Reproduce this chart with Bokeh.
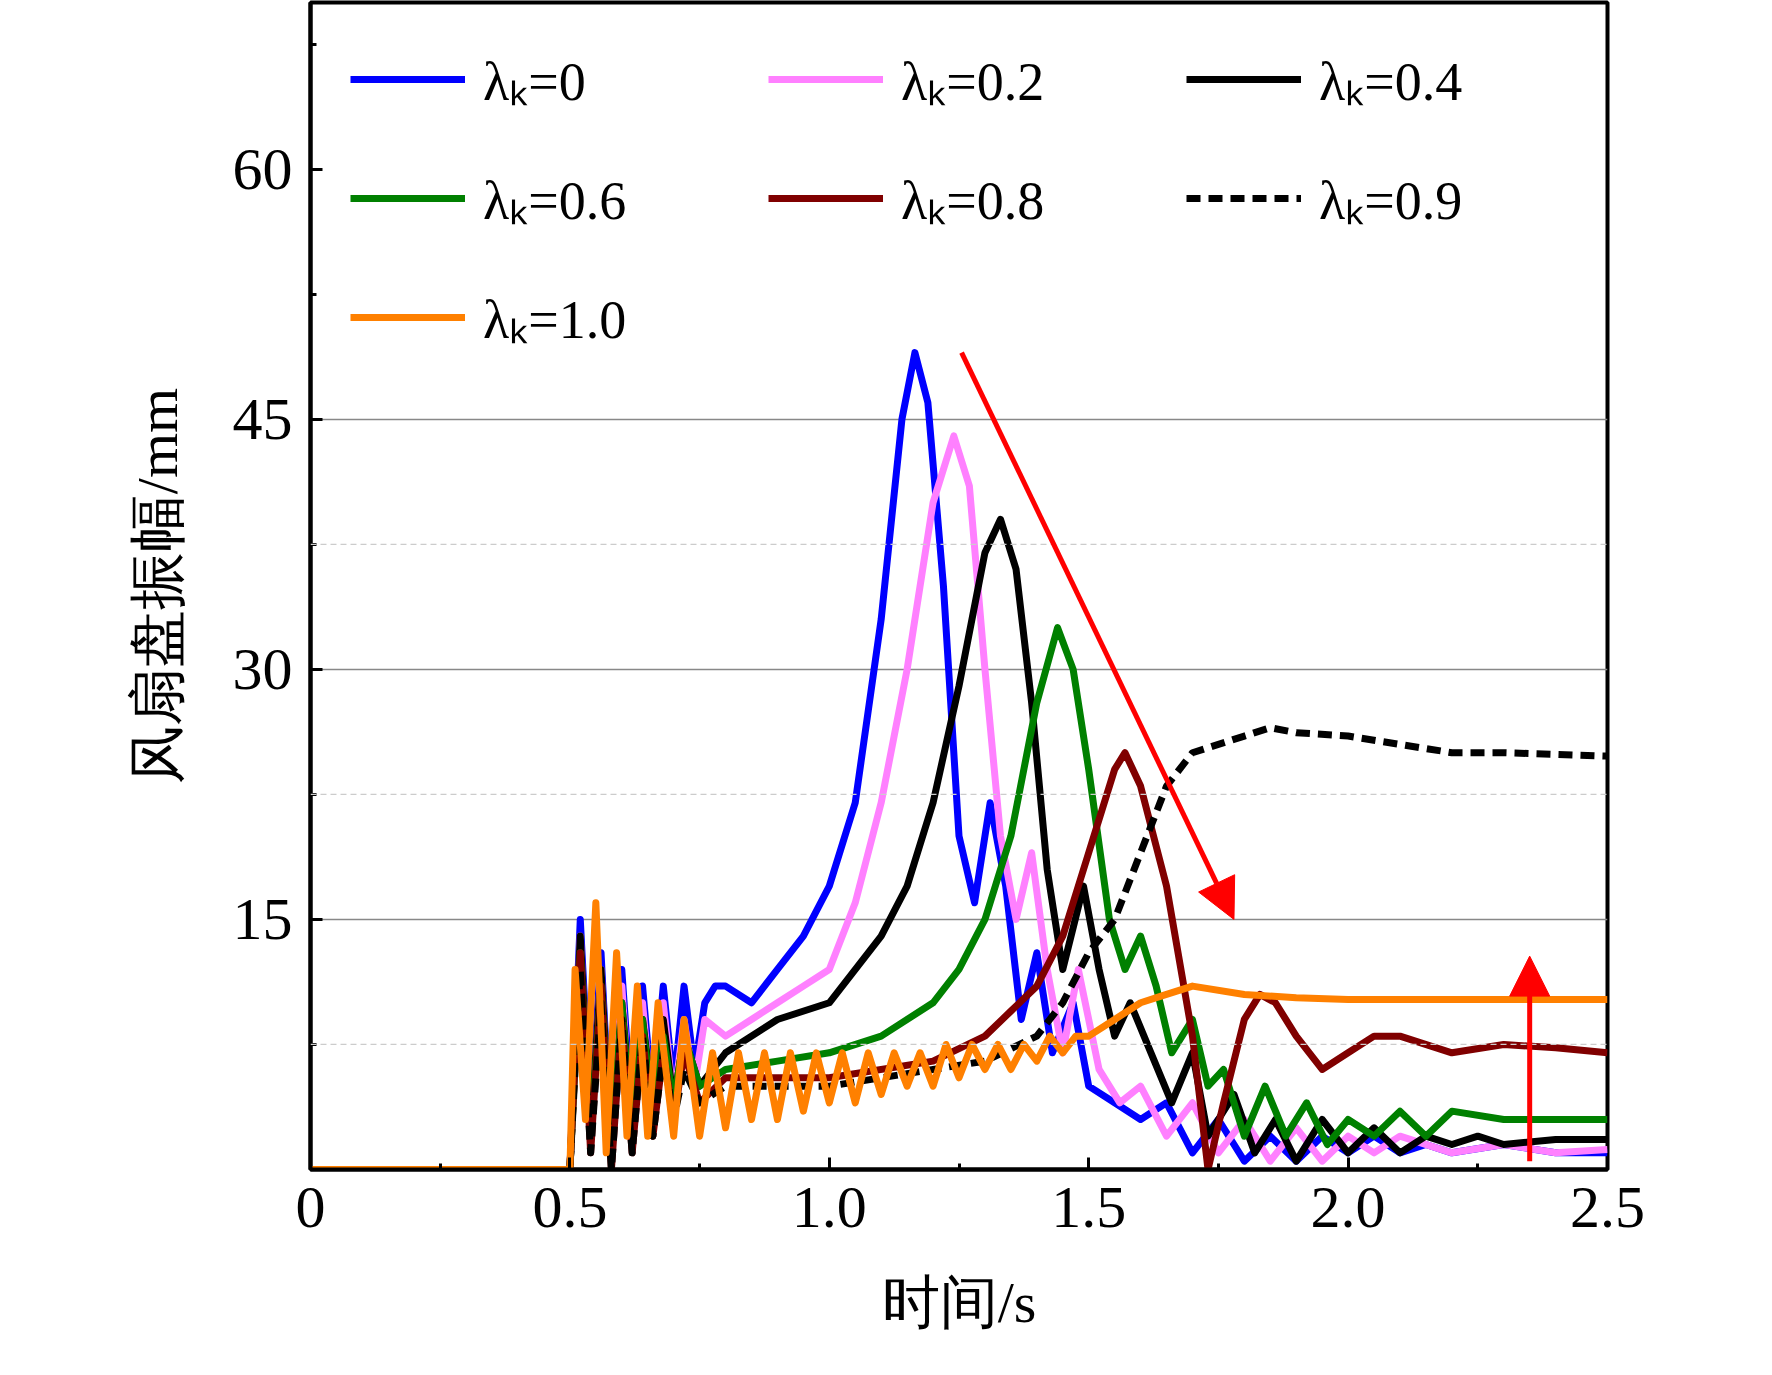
from bokeh.plotting import figure
from bokeh.models import (Legend, LegendItem, FixedTicker, Arrow, NormalHead, Span)
from bokeh.embed import file_html
from bokeh.resources import INLINE

# ---- data ----
t_l0 = [0, 0.5, 0.52, 0.54, 0.56, 0.58, 0.60, 0.62, 0.64, 0.66, 0.68, 0.70, 0.72, 0.74, 0.76, 0.78, 0.80, 0.85, 0.90, 0.95, 1.00, 1.05, 1.10, 1.14, 1.165, 1.19, 1.22, 1.25, 1.28, 1.31, 1.34, 1.37, 1.40, 1.43, 1.47, 1.50, 1.55, 1.60, 1.65, 1.70, 1.75, 1.80, 1.85, 1.90, 1.95, 2.00, 2.05, 2.10, 2.15, 2.20, 2.30, 2.40, 2.50]
y_l0 = [0, 0, 15, 3, 13, 1, 12, 3, 11, 4, 11, 5, 11, 6, 10, 11, 11, 10, 12, 14, 17, 22, 33, 45, 49, 46, 35, 20, 16, 22, 17, 9, 13, 7, 10, 5, 4, 3, 4, 1, 3, 0.5, 2, 0.5, 2, 1, 2, 1, 1.5, 1, 1.5, 1, 1]

t_l2 = [0, 0.5, 0.52, 0.54, 0.56, 0.58, 0.60, 0.62, 0.64, 0.66, 0.68, 0.70, 0.72, 0.74, 0.76, 0.80, 0.85, 0.90, 0.95, 1.00, 1.05, 1.10, 1.15, 1.20, 1.24, 1.27, 1.30, 1.33, 1.36, 1.39, 1.42, 1.45, 1.48, 1.52, 1.56, 1.60, 1.65, 1.70, 1.75, 1.80, 1.85, 1.90, 1.95, 2.00, 2.05, 2.10, 2.20, 2.30, 2.40, 2.50]
y_l2 = [0, 0, 14, 2, 12, 1, 11, 2, 10, 3, 10, 4, 9, 5, 9, 8, 9, 10, 11, 12, 16, 22, 30, 40, 44, 41, 30, 20, 15, 19, 12, 7, 12, 6, 4, 5, 2, 4, 1, 3, 0.5, 2.5, 0.5, 2, 1, 2, 1, 1.5, 1, 1.2]

t_l4 = [0, 0.5, 0.52, 0.54, 0.56, 0.58, 0.60, 0.62, 0.64, 0.66, 0.68, 0.70, 0.72, 0.75, 0.80, 0.90, 1.00, 1.10, 1.15, 1.20, 1.25, 1.30, 1.33, 1.36, 1.39, 1.42, 1.45, 1.49, 1.52, 1.55, 1.58, 1.62, 1.66, 1.70, 1.73, 1.78, 1.82, 1.86, 1.90, 1.95, 2.00, 2.05, 2.10, 2.15, 2.20, 2.25, 2.30, 2.40, 2.50]
y_l4 = [0, 0, 14, 2, 12, 1, 10, 3, 9, 4, 9, 4, 8, 5, 7, 9, 10, 14, 17, 22, 29, 37, 39, 36, 28, 18, 12, 17, 12, 8, 10, 7, 4, 7, 2, 4.5, 1, 3, 0.5, 3, 1, 2.5, 1, 2, 1.5, 2, 1.5, 1.8, 1.8]

t_l6 = [0, 0.5, 0.52, 0.54, 0.56, 0.58, 0.60, 0.62, 0.64, 0.66, 0.68, 0.70, 0.72, 0.75, 0.80, 0.90, 1.00, 1.10, 1.20, 1.25, 1.30, 1.35, 1.40, 1.44, 1.47, 1.50, 1.54, 1.57, 1.60, 1.63, 1.66, 1.70, 1.73, 1.76, 1.80, 1.84, 1.88, 1.92, 1.96, 2.00, 2.05, 2.10, 2.15, 2.20, 2.30, 2.40, 2.50]
y_l6 = [0, 0, 13, 2, 11, 1, 10, 2, 9, 3, 8, 4, 8, 5, 6, 6.5, 7, 8, 10, 12, 15, 20, 28, 32.5, 30, 24, 15, 12, 14, 11, 7, 9, 5, 6, 2, 5, 2, 4, 1.5, 3, 2, 3.5, 2, 3.5, 3, 3, 3]

t_l8 = [0, 0.5, 0.52, 0.54, 0.56, 0.58, 0.60, 0.62, 0.64, 0.66, 0.68, 0.70, 0.72, 0.75, 0.80, 1.00, 1.20, 1.30, 1.35, 1.40, 1.45, 1.50, 1.55, 1.57, 1.60, 1.65, 1.70, 1.73, 1.76, 1.80, 1.83, 1.86, 1.90, 1.95, 2.00, 2.05, 2.10, 2.20, 2.30, 2.40, 2.50]
y_l8 = [0, 0, 13, 1, 11, 0, 9, 1, 8, 2, 7, 3, 7, 4, 5.5, 5.5, 6.5, 8, 9.5, 11, 14, 19, 24, 25, 23, 17, 8, 0, 4, 9, 10.5, 10, 8, 6, 7, 8, 8, 7, 7.5, 7.3, 7]

t_l9 = [0, 0.5, 0.52, 0.54, 0.56, 0.58, 0.60, 0.62, 0.64, 0.66, 0.68, 0.70, 0.72, 0.75, 0.80, 1.00, 1.20, 1.30, 1.40, 1.45, 1.50, 1.55, 1.60, 1.65, 1.70, 1.75, 1.80, 1.85, 1.90, 2.00, 2.10, 2.20, 2.30, 2.50]
y_l9 = [0, 0, 12, 1, 10, 0, 9, 1, 8, 2, 7, 3, 6, 4, 5, 5, 6, 6.5, 8, 10, 13, 15, 19, 23, 25, 25.5, 26, 26.5, 26.2, 26, 25.5, 25, 25, 24.8]

t_l10 = [0, 0.5, 0.51, 0.53, 0.55, 0.57, 0.59, 0.61, 0.63, 0.65, 0.67, 0.70, 0.72, 0.75, 0.775, 0.80, 0.825, 0.85, 0.875, 0.90, 0.925, 0.95, 0.975, 1.00, 1.025, 1.05, 1.075, 1.10, 1.125, 1.15, 1.175, 1.20, 1.225, 1.25, 1.275, 1.30, 1.325, 1.35, 1.375, 1.40, 1.425, 1.45, 1.475, 1.50, 1.55, 1.60, 1.65, 1.70, 1.80, 1.90, 2.00, 2.50]
y_l10 = [0, 0, 12, 3, 16, 1, 13, 2, 11, 2, 10, 2, 9, 2, 7, 2.5, 7, 3, 7, 3, 7, 3.5, 7, 4, 7, 4, 7, 4.5, 7, 5, 7, 5, 7.5, 5.5, 7.5, 6, 7.5, 6, 7.5, 6.5, 8, 7, 8, 8, 9, 10, 10.5, 11, 10.5, 10.3, 10.2, 10.2]

series = [
    ("λₖ=0", t_l0, y_l0, "#0000ff", "solid"),
    ("λₖ=0.2", t_l2, y_l2, "#ff80ff", "solid"),
    ("λₖ=0.4", t_l4, y_l4, "#000000", "solid"),
    ("λₖ=0.6", t_l6, y_l6, "#008000", "solid"),
    ("λₖ=0.8", t_l8, y_l8, "#800000", "solid"),
    ("λₖ=0.9", t_l9, y_l9, "#000000", "14 8"),
    ("λₖ=1.0", t_l10, y_l10, "#ff8000", "solid"),
]

FONT = "Liberation Serif"
p = figure(width=1750, height=1360, x_range=(0, 2.5), y_range=(0, 70),
           output_backend="svg", toolbar_location=None,
           min_border_left=310, min_border_right=143, min_border_top=2, min_border_bottom=191)
p.outline_line_color = "black"
p.outline_line_width = 4
p.xgrid.visible = False
p.ygrid.ticker = FixedTicker(ticks=[15, 30, 45])
p.ygrid.grid_line_color = "#888888"
p.ygrid.grid_line_width = 1.5
for yv in [7.5, 22.5, 37.5]:
    p.add_layout(Span(location=yv, dimension="width", line_color="#cccccc", line_dash="6 4", line_width=1.2))

p.xaxis.ticker = FixedTicker(ticks=[0, 0.5, 1.0, 1.5, 2.0, 2.5], minor_ticks=[0.25, 0.75, 1.25, 1.75, 2.25])
p.xaxis.major_label_overrides = {0: "0", 0.5: "0.5", 1.0: "1.0", 1.5: "1.5", 2.0: "2.0", 2.5: "2.5"}
p.yaxis.ticker = FixedTicker(ticks=[15, 30, 45, 60], minor_ticks=[7.5, 22.5, 37.5, 52.5, 67.5])
for ax in (p.xaxis[0], p.yaxis[0]):
    ax.major_tick_in = 12
    ax.major_tick_out = 0
    ax.minor_tick_in = 6
    ax.minor_tick_out = 0
    ax.axis_line_width = 4
    ax.major_tick_line_width = 3
    ax.minor_tick_line_width = 3
    ax.major_label_text_font = FONT
    ax.major_label_text_font_size = "60px"
    ax.major_label_text_color = "black"
    ax.axis_label_text_font = FONT
    ax.axis_label_text_font_size = "58px"
    ax.axis_label_text_color = "black"
    ax.axis_label_text_font_style = "normal"
    ax.major_label_standoff = 18
p.xaxis.axis_label = "时间/s"
p.yaxis.axis_label = "风扇盘振幅/mm"
p.xaxis.axis_label_standoff = 40
p.yaxis.axis_label_standoff = 40

items = []
for name, t, y, c, dash in series:
    r = p.line(t, y, line_color=c, line_width=7, line_dash=dash, line_join="round")
    items.append(LegendItem(label=name, renderers=[r]))

p.add_layout(Arrow(end=NormalHead(size=40, fill_color="#ff0000", line_color="#ff0000"),
                   x_start=1.255, y_start=49, x_end=1.78, y_end=15,
                   line_color="#ff0000", line_width=5))
p.add_layout(Arrow(end=NormalHead(size=40, fill_color="#ff0000", line_color="#ff0000"),
                   x_start=2.35, y_start=0.5, x_end=2.35, y_end=12.8,
                   line_color="#ff0000", line_width=5))

leg = Legend(items=items, ncols=3, orientation="horizontal", location="top_left",
             label_text_font=FONT, label_text_color="black",
             label_text_font_size="54px", glyph_width=115, glyph_height=40,
             label_width=240, spacing=45, label_standoff=18, border_line_alpha=0,
             background_fill_alpha=0, margin=0, padding=40)
p.add_layout(leg)

open("out.html", "w").write(file_html(p, INLINE))
